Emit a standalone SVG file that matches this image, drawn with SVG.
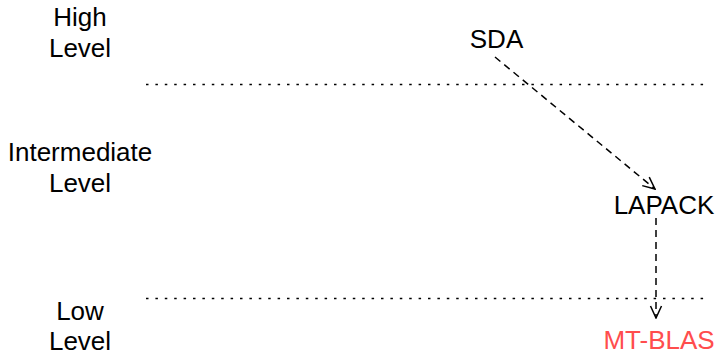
<svg xmlns="http://www.w3.org/2000/svg" width="717" height="354" viewBox="0 0 717 354">
  <style>
    text { font-family: "Liberation Sans", Arial, Helvetica, sans-serif; font-size: 26px; fill: #000; text-anchor: middle; }
    .red { fill: #ff4d4d; }
    .dots { stroke: #000; stroke-width: 1.5; stroke-dasharray: 2.5 6.9; fill: none; }
    .conn { stroke: #000; stroke-width: 1.5; stroke-dasharray: 7 5; fill: none; }
  </style>
  <defs>
    <marker id="open" viewBox="0 0 14 14" refX="13" refY="7" markerWidth="14" markerHeight="14" markerUnits="userSpaceOnUse" orient="auto">
      <path d="M1,1.5 L13,7 L1,12.5" fill="none" stroke="#000" stroke-width="1.5"/>
    </marker>
  </defs>
  <rect width="717" height="354" fill="#fff"/>
  <g id="levels">
    <line class="dots" x1="146" y1="84.5" x2="710" y2="84.5"/>
    <line class="dots" x1="146" y1="298.5" x2="710" y2="298.5"/>
  </g>
  <g id="label-high"><text x="80" y="26">High</text><text x="80" y="57">Level</text></g>
  <g id="label-intermediate"><text x="80" y="161">Intermediate</text><text x="80" y="192">Level</text></g>
  <g id="label-low"><text x="80" y="320">Low</text><text x="80" y="350">Level</text></g>
  <g id="node-sda"><text x="496.5" y="48">SDA</text></g>
  <g id="node-lapack"><text x="664" y="214">LAPACK</text></g>
  <g id="node-mtblas"><text class="red" x="659" y="349">MT-BLAS</text></g>
  <g id="connectors">
    <line class="conn" x1="495" y1="57" x2="655" y2="189" marker-end="url(#open)"/>
    <line class="conn" x1="656" y1="218" x2="656" y2="318" marker-end="url(#open)"/>
  </g>
</svg>
